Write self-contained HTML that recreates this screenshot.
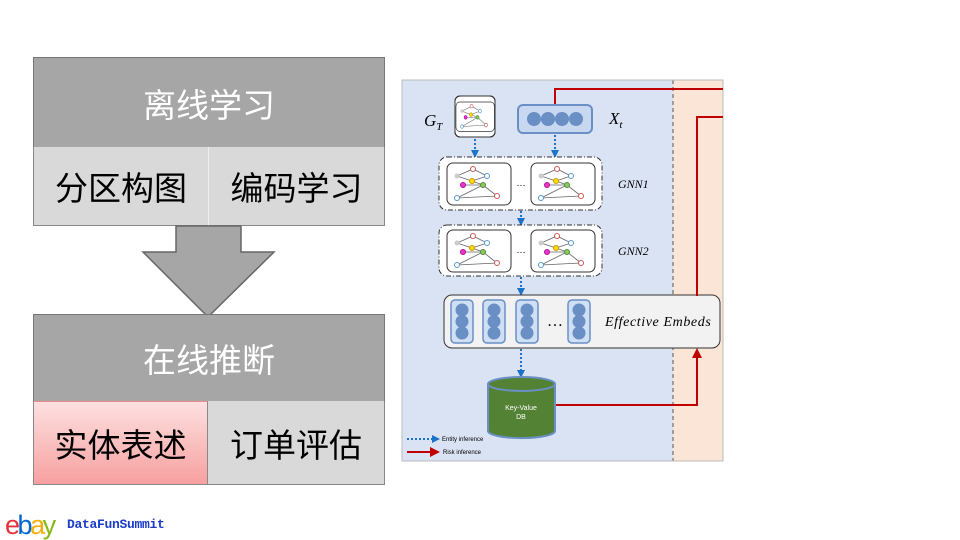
<!DOCTYPE html>
<html><head><meta charset="utf-8"><style>
body{margin:0;width:960px;height:540px;background:#fff;overflow:hidden;position:relative;font-family:"Liberation Sans","Noto Sans CJK SC",sans-serif}
.a{position:absolute;box-sizing:border-box;display:flex;align-items:center;justify-content:center}
</style></head><body>
<div class="a" style="left:33px;top:57px;width:352px;height:90px;background:#a6a6a6;color:#fff;font-size:33px;border:1.5px solid #777;border-bottom:none">离线学习</div>
<div class="a" style="left:33px;top:147px;width:175px;height:79px;background:#d9d9d9;font-size:33px;border-left:1.5px solid #888;border-bottom:1.5px solid #888">分区构图</div>
<div class="a" style="left:208px;top:147px;width:177px;height:79px;background:#d9d9d9;font-size:33px;border-left:1px solid #eee;border-right:1.5px solid #888;border-bottom:1.5px solid #888">编码学习</div>
<svg style="position:absolute;left:0;top:0" width="400" height="540"><polygon points="176,226 241,226 241,252 274,252 208,317 143,252 176,252" fill="#a6a6a6" stroke="#666" stroke-width="1.5"/></svg>
<div class="a" style="left:33px;top:314px;width:352px;height:87px;background:#a6a6a6;color:#fff;font-size:33px;border:1.5px solid #777;border-bottom:none">在线推断</div>
<div class="a" style="left:33px;top:401px;width:175px;height:84px;background:linear-gradient(#fde0e0,#f7a0a0);font-size:33px;border:1.5px solid #888;border-top:1px solid #e88">实体表述</div>
<div class="a" style="left:208px;top:401px;width:177px;height:84px;background:#d9d9d9;font-size:33px;border-right:1.5px solid #888;border-bottom:1.5px solid #888">订单评估</div>

<svg style="position:absolute;left:0;top:0" width="960" height="540" font-family="Liberation Serif,serif">
<defs>
<marker id="bl" markerUnits="userSpaceOnUse" markerWidth="8" markerHeight="8" refX="6" refY="4" orient="auto"><path d="M0,0L8,4L0,8z" fill="#1a73c8"/></marker>
<marker id="rd" markerUnits="userSpaceOnUse" markerWidth="10" markerHeight="10" refX="8" refY="5" orient="auto"><path d="M0,0L10,5L0,10z" fill="#c00000"/></marker>
<g id="g"><rect x="0" y="0" width="64" height="42" rx="6" fill="#fff" stroke="#333"/>
<path d="M10,13L26,6L40,13 M10,13L25,18L36,22 M16,22L36,22L50,33 M10,35L36,22 M10,35L50,33 M25,18L40,13" stroke="#666" stroke-width="0.8" fill="none"/>
<circle cx="10" cy="13" r="2.5" fill="#ccc"/><circle cx="26" cy="6" r="2.5" fill="#fff" stroke="#c55"/><circle cx="40" cy="13" r="2.5" fill="#fff" stroke="#59c"/><circle cx="25" cy="18" r="2.5" fill="#fd0" stroke="#c90"/><circle cx="36" cy="22" r="2.5" fill="#8c5" stroke="#584"/><circle cx="16" cy="22" r="2.5" fill="#e3c" stroke="#a19"/><circle cx="10" cy="35" r="2.5" fill="#fff" stroke="#59c"/><circle cx="50" cy="33" r="2.5" fill="#fff" stroke="#c55"/></g>
<g id="c"><rect x="0" y="0" width="22" height="43" rx="4" fill="#cfe0f5" stroke="#6a8fc5" stroke-width="1.5"/><circle cx="11" cy="10" r="6.5" fill="#6a8fc5"/><circle cx="11" cy="21.5" r="6.5" fill="#6a8fc5"/><circle cx="11" cy="33" r="6.5" fill="#6a8fc5"/></g>
</defs>
<rect x="402" y="80" width="271" height="381" fill="#dae3f3"/>
<rect x="673" y="80" width="50" height="381" fill="#fbe5d6"/>
<line x1="673" y1="80" x2="673" y2="461" stroke="#555" stroke-dasharray="4,3"/>
<rect x="402" y="80" width="321" height="381" fill="none" stroke="#bbb"/>
<text x="424" y="126" font-size="17" font-style="italic">G<tspan font-size="11" dy="4">T</tspan></text>
<text x="609" y="124" font-size="17" font-style="italic">X<tspan font-size="11" dy="4">t</tspan></text>
<rect x="455" y="96" width="40" height="41" rx="5" fill="#fff" stroke="#333"/>
<g transform="translate(456,102) scale(0.6,0.7)"><use href="#g"/></g>
<rect x="455" y="96" width="40" height="41" rx="5" fill="none" stroke="#333"/>
<rect x="518" y="105" width="74" height="28" rx="5" fill="#c7d8f0" stroke="#6a8fc5" stroke-width="2"/>
<circle cx="534" cy="119" r="7" fill="#6a8fc5"/><circle cx="548" cy="119" r="7" fill="#6a8fc5"/><circle cx="562" cy="119" r="7" fill="#6a8fc5"/><circle cx="576" cy="119" r="7" fill="#6a8fc5"/>
<g stroke="#1a73c8" stroke-width="2" stroke-dasharray="2,2" fill="none">
<line x1="475" y1="139" x2="475" y2="156" marker-end="url(#bl)"/>
<line x1="555" y1="135" x2="555" y2="156" marker-end="url(#bl)"/>
<line x1="521" y1="211" x2="521" y2="224" marker-end="url(#bl)"/>
<line x1="521" y1="277" x2="521" y2="294" marker-end="url(#bl)"/>
<line x1="521" y1="349" x2="521" y2="376" marker-end="url(#bl)"/>
<line x1="407" y1="439" x2="438" y2="439" marker-end="url(#bl)"/>
</g>
<rect x="439" y="157" width="163" height="53" rx="8" fill="#fff" stroke="#333" stroke-dasharray="5,2,1,2"/>
<use href="#g" x="447" y="163"/><use href="#g" x="531" y="163"/>
<text x="521" y="186" font-size="9" text-anchor="middle">…</text>
<rect x="439" y="225" width="163" height="51" rx="8" fill="#fff" stroke="#333" stroke-dasharray="5,2,1,2"/>
<use href="#g" x="447" y="230"/><use href="#g" x="531" y="230"/>
<text x="521" y="253" font-size="9" text-anchor="middle">…</text>
<text x="618" y="188" font-size="12" font-style="italic">GNN1</text>
<text x="618" y="255" font-size="12" font-style="italic">GNN2</text>
<rect x="444" y="295" width="276" height="53" rx="8" fill="#f2f2f2" stroke="#333"/>
<use href="#c" x="451" y="300"/><use href="#c" x="483" y="300"/><use href="#c" x="516" y="300"/><use href="#c" x="568" y="300"/>
<text x="555" y="326" font-size="16" text-anchor="middle">…</text>
<text x="605" y="326" font-size="14" font-style="italic" letter-spacing="0.6">Effective Embeds</text>
<path d="M488,384 L488,431 A33,7 0 0 0 555,431 L555,384" fill="#548235" stroke="#6a8fc5" stroke-width="2"/>
<ellipse cx="521.5" cy="384" rx="33.5" ry="7" fill="#548235" stroke="#6a8fc5" stroke-width="2"/>
<text x="521" y="410" font-size="7" fill="#fff" text-anchor="middle" font-family="Liberation Sans">Key-Value</text>
<text x="521" y="419" font-size="7" fill="#fff" text-anchor="middle" font-family="Liberation Sans">DB</text>
<g stroke="#c00000" stroke-width="2" fill="none">
<path d="M555,104 L555,89 L723,89"/>
<path d="M697,296 L697,117 L723,117"/>
<path d="M556,405 L697,405 L697,350" marker-end="url(#rd)"/>
<line x1="407" y1="452" x2="438" y2="452" marker-end="url(#rd)"/>
</g>
<text x="442" y="441" font-size="6" font-family="Liberation Sans">Entity inference</text>
<text x="443" y="454" font-size="6" font-family="Liberation Sans">Risk inference</text>
<text x="5" y="534" font-size="27" font-family="Liberation Sans" letter-spacing="-2.5"><tspan fill="#e53238">e</tspan><tspan fill="#0064d2">b</tspan><tspan fill="#f5af02">a</tspan><tspan fill="#86b817">y</tspan></text>
<text x="67" y="528" font-size="13" font-weight="bold" fill="#1a3cc8" font-family="Liberation Mono" letter-spacing="-0.3">DataFunSummit</text>
</svg>
</body></html>
